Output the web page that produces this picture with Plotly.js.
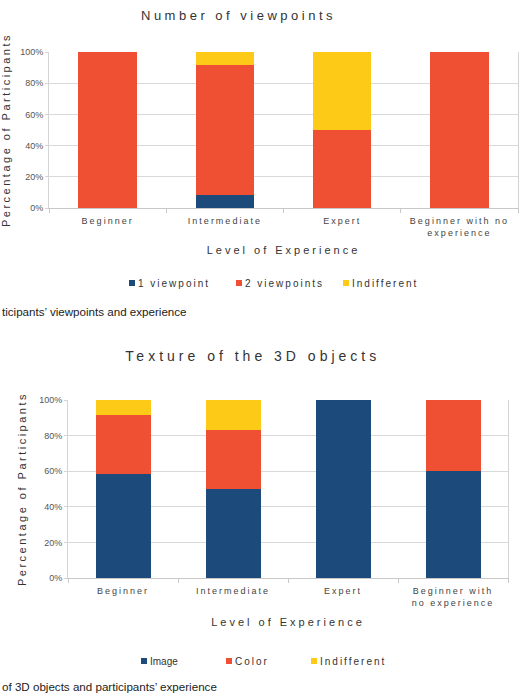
<!DOCTYPE html>
<html><head><meta charset="utf-8">
<script src="https://cdn.plot.ly/plotly-3.0.1.min.js"></script>
<style>
html,body{margin:0;padding:0;background:#fff;}
#c1{position:absolute;left:0;top:0;width:530px;height:325px;}
#c2{position:absolute;left:0;top:325px;width:530px;height:375px;}
#c1 .gtitle{letter-spacing:3.5px;}
#c2 .gtitle{letter-spacing:4px;}
.xtick text{letter-spacing:2px;}
.xtitle{letter-spacing:3px;}
.ytitle{letter-spacing:2.5px;}
.legendtext{letter-spacing:2px;}
#c2 .legend .traces:first-child .legendtext{letter-spacing:0;}
.legendpoints path{transform:translate(34px,0px) scale(0.5);}
.legend .scrollbox{clip-path:none !important;}
</style></head>
<body>
<div id="c1"></div>
<div id="c2"></div>
<script>
// Chart 1: Number of viewpoints
const categories1 = ['Beginner', 'Intermediate', 'Expert', 'Beginner with no<br>experience'];
const onePoint = [0, 8.33, 0, 0];
const twoPoints = [100, 83.33, 50, 100];
const indifferent1 = [0, 8.33, 50, 0];
const seriesNames1 = ['1 viewpoint', '2 viewpoints', 'Indifferent'];

// Chart 2: Texture of the 3D objects
const categories2 = ['Beginner', 'Intermediate', 'Expert', 'Beginner with<br>no experience'];
const imageTex = [58.33, 50, 100, 60];
const colorTex = [33.33, 33.33, 0, 40];
const indifferent2 = [8.33, 16.67, 0, 0];
const seriesNames2 = ['Image', 'Color', 'Indifferent'];

const yTicks = [0, 20, 40, 60, 80, 100];
const colors = ['#1b4a7b', '#ef4f33', '#fdcb17'];
const FONT = 'Liberation Sans, Arial, sans-serif';

function makeTraces(cats, series, names) {
  return series.map((vals, i) => ({
    type: 'bar', x: cats, y: vals, name: names[i],
    marker: {color: colors[i], line: {width: 0}},
    hoverinfo: 'skip'
  }));
}

function makeLayout(o) {
  return {
    width: 530, height: o.h,
    margin: {l: o.l, r: o.r, t: o.t, b: o.b},
    paper_bgcolor: '#fff', plot_bgcolor: '#fff',
    barmode: 'stack', bargap: 0.5,
    font: {family: FONT, color: '#333'},
    showlegend: true,
    title: {text: o.title, font: {size: o.titleSize, color: '#333', family: FONT},
            x: o.titleX, xref: 'container', xanchor: 'center',
            y: o.titleY, yref: 'container', yanchor: 'middle'},
    xaxis: {type: 'category', showline: true, linecolor: '#c8c8c8', linewidth: 1,
            ticks: 'outside', tickson: 'boundaries', ticklen: 4, tickcolor: '#c8c8c8',
            ticklabelstandoff: 4,
            showgrid: false, tickfont: {size: 9, color: '#444'},
            title: {text: 'Level of Experience', font: {size: 11, color: '#333'}, standoff: o.standoff}},
    yaxis: {range: [0, 100], tickvals: yTicks, ticktext: yTicks.map(v => v + '%'),
            showline: true, mirror: true, linecolor: '#d4d4d4', showgrid: true,
            gridcolor: '#d9d9d9', ticks: 'outside', ticklen: 3, tickcolor: '#d4d4d4',
            tickfont: {size: 9, color: '#555'}, zeroline: false,
            title: {text: 'Percentage of Participants', font: {size: 11, color: '#333'}, standoff: o.ystandoff}},
    legend: {orientation: 'h', traceorder: 'normal', x: o.legX, xanchor: 'left', y: o.legY, yanchor: 'middle',
             entrywidthmode: 'pixels', entrywidth: o.entryW,
             font: {size: 10, color: '#333'}, bgcolor: 'rgba(0,0,0,0)'},
    annotations: [{text: o.caption, xref: 'paper', yref: 'paper', x: o.capX, y: o.capY,
                   xanchor: 'left', yanchor: 'middle', showarrow: false,
                   font: {size: 11.6, color: '#222', family: FONT}}]
  };
}

Plotly.newPlot('c1', makeTraces(categories1, [onePoint, twoPoints, indifferent1], seriesNames1),
  makeLayout({h: 325, l: 49, r: 12, t: 52, b: 117, title: 'Number of viewpoints', titleSize: 13,
    titleX: 0.45, titleY: 1 - 15 / 325, standoff: 9, ystandoff: 19,
    legX: (98 - 49) / 469, legY: (208 - 283) / 156, entryW: 62,
    caption: 'ticipants’ viewpoints and experience', capX: -49 / 469, capY: (208 - 311) / 156}),
  {displayModeBar: false, staticPlot: true});

Plotly.newPlot('c2', makeTraces(categories2, [imageTex, colorTex, indifferent2], seriesNames2),
  makeLayout({h: 375, l: 68, r: 22, t: 75, b: 122, title: 'Texture of the 3D objects', titleSize: 14,
    titleX: 0.477, titleY: 1 - 31 / 375, standoff: 11, ystandoff: 10,
    legX: (110 - 68) / 440, legY: (253 - 336) / 178, entryW: 40,
    caption: 'of 3D objects and participants’ experience', capX: -68 / 440, capY: (253 - 361) / 178}),
  {displayModeBar: false, staticPlot: true});
</script>
</body></html>
